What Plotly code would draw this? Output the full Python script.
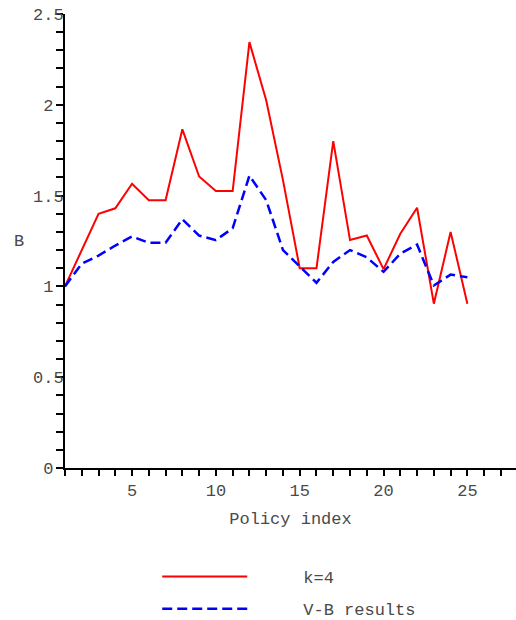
import plotly.graph_objects as go

policy = list(range(1, 26))
k4 = [1.00, 1.20, 1.40, 1.43, 1.565, 1.475, 1.475, 1.865, 1.605, 1.525, 1.525,
      2.345, 2.025, 1.585, 1.10, 1.10, 1.80, 1.255, 1.28, 1.095, 1.29, 1.433,
      0.905, 1.30, 0.905]
vb = [1.00, 1.125, 1.17, 1.225, 1.275, 1.24, 1.24, 1.37, 1.28, 1.255, 1.32,
      1.61, 1.475, 1.20, 1.11, 1.02, 1.135, 1.20, 1.16, 1.08, 1.18, 1.23,
      1.005, 1.065, 1.05]
xticks = [5, 10, 15, 20, 25]
yticks = [0, 0.5, 1, 1.5, 2, 2.5]
ylabels = ["0", "0.5", "1", "1.5", "2", "2.5"]

FONT = "Liberation Mono, Courier New, monospace"
NB = "\u00a0"

fig = go.Figure()
fig.add_trace(go.Scatter(x=policy, y=k4, mode="lines", name=NB * 5 + "k=4",
                         line=dict(color="#ff0000", width=2), legendgroup="a"))
fig.add_trace(go.Scatter(x=policy, y=vb, mode="lines", name=NB * 5 + "V-B results",
                         line=dict(color="#0000ff", width=2.5, dash="10px,5px"),
                         legendgroup="b"))

fig.update_layout(
    width=516, height=620,
    margin=dict(l=65, r=0, t=14, b=152, autoexpand=False),
    paper_bgcolor="white", plot_bgcolor="white",
    font=dict(family=FONT, size=17, color="#4a4a4a"),
    showlegend=True,
    legend=dict(x=0.2045, y=-0.2005, xanchor="left", yanchor="top",
                itemwidth=85, tracegroupgap=7,
                font=dict(family=FONT, size=17, color="#4a4a4a")),
    xaxis=dict(range=[1, 27.9], tickvals=xticks, ticktext=[str(v) for v in xticks],
               showgrid=False, zeroline=False, showline=True, linecolor="black",
               linewidth=2, ticks="outside", ticklen=6, tickcolor="black", tickwidth=2,
               minor=dict(dtick=1, tick0=0, ticks="outside", ticklen=6,
                          tickcolor="black", tickwidth=2),
               ticklabelstandoff=0,
               title=dict(text="Policy index", standoff=12,
                          font=dict(family=FONT, size=17, color="#4a4a4a"))),
    yaxis=dict(range=[0, 2.5], tickvals=yticks,
               ticktext=[t if len(t) > 1 else t + NB for t in ylabels],
               showgrid=False, zeroline=False, showline=True, linecolor="black",
               linewidth=2, ticks="outside", ticklen=7, tickcolor="black", tickwidth=2,
               minor=dict(dtick=0.1, tick0=0, ticks="outside", ticklen=7,
                          tickcolor="black", tickwidth=2),
               ticklabelstandoff=-11),
    annotations=[dict(text="B", xref="paper", yref="paper", x=-0.1009, y=0.5,
                      xanchor="center", yanchor="middle", showarrow=False,
                      font=dict(family=FONT, size=17, color="#4a4a4a"))],
)

fig.write_html("out.html")
